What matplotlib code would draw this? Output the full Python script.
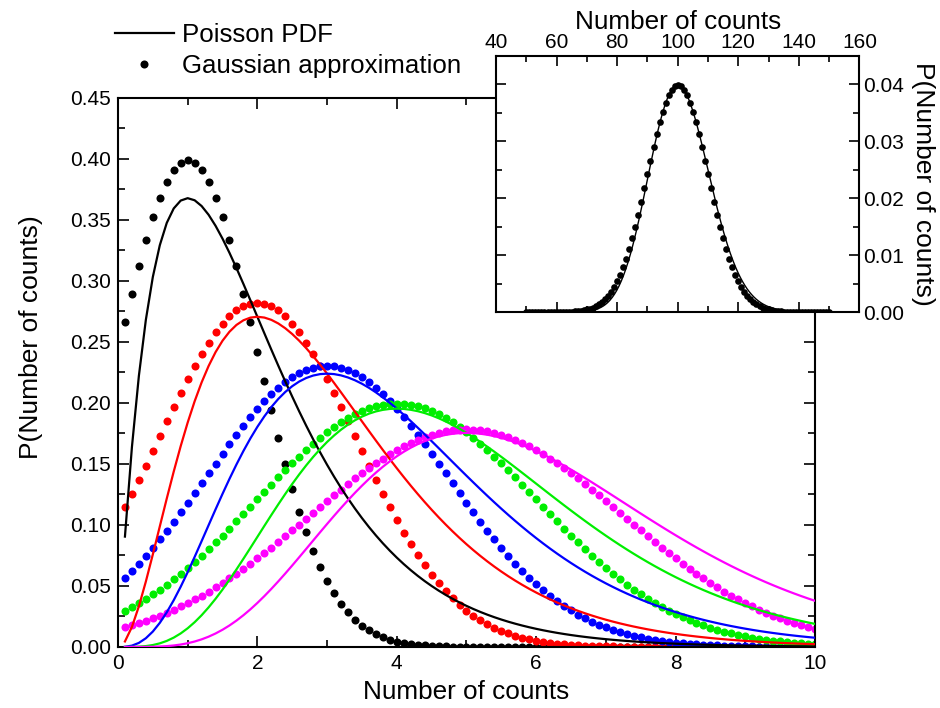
import math

import numpy as np
from matplotlib import pyplot as plt
from matplotlib.lines import Line2D
from matplotlib.ticker import MultipleLocator

plt.rcParams["font.family"] = ["Liberation Sans", "DejaVu Sans"]

# counts n for each curve, and the colour used for it
counts = [1, 2, 3, 4, 5]
colors = ["#000000", "#ff0000", "#0000ff", "#00ee00", "#ff00ff"]

# x grid (mean of the distribution) for the main panel
x_start, x_stop, x_step = 0.1, 10.0, 0.1

# inset: large count
inset_count = 100
inset_start, inset_stop = 50, 150

x_ticks = [0, 2, 4, 6, 8, 10]
y_ticks = [0.00, 0.05, 0.10, 0.15, 0.20, 0.25, 0.30, 0.35, 0.40, 0.45]
inset_x_ticks = [40, 60, 80, 100, 120, 140, 160]
inset_y_ticks = [0.00, 0.01, 0.02, 0.03, 0.04]

TICK_FS = 15


def poisson(n, lam):
    # P(n | lam) as a continuous function of lam
    return np.exp(n * np.log(lam) - lam - math.lgamma(n + 1))


def gauss(n, x):
    return np.exp(-(x - n) ** 2 / (2 * n)) / np.sqrt(2 * np.pi * n)


def style_axes(ax, major, minor):
    ax.tick_params(which="both", direction="in", top=True, right=True,
                   labelsize=TICK_FS, width=1.2, pad=5)
    ax.tick_params(which="major", length=major)
    ax.tick_params(which="minor", length=minor)
    for s in ax.spines.values():
        s.set_linewidth(1.5)


fig = plt.figure(figsize=(9.4, 7.08), dpi=100)
ax = fig.add_axes([0.1255, 0.0862, 0.7415, 0.7754])

x = np.arange(x_start, x_stop + x_step / 2, x_step)
for n, c in zip(counts, colors):
    ax.plot(x, gauss(n, x), "o", color=c, ms=5.8, mec="none", zorder=2)
for n, c in zip(counts, colors):
    ax.plot(x, poisson(n, x), "-", color=c, lw=1.6, zorder=3)

ax.set_xlim(0, 10)
ax.set_ylim(0, 0.45)
ax.set_xticks(x_ticks)
ax.set_yticks(y_ticks)
ax.xaxis.set_minor_locator(MultipleLocator(1))
ax.yaxis.set_minor_locator(MultipleLocator(0.025))
ax.set_yticklabels(["%.2f" % v for v in y_ticks])
ax.set_xlabel("Number of counts", fontsize=18.8, labelpad=5)
ax.set_ylabel("P(Number of counts)", fontsize=19)
ax.yaxis.set_label_coords(-0.107, 0.565)
style_axes(ax, 8, 5)

# inset with n = 100
ins = fig.add_axes([0.5277, 0.5593, 0.3866, 0.3616])
xi = np.arange(inset_start, inset_stop + 1, 1)
xl = np.linspace(inset_start, inset_stop + 1, 400)
ins.plot(xl, poisson(inset_count, xl), "-", color="k", lw=1.0, zorder=2)
ins.plot(xi, gauss(inset_count, xi), "o", color="k", ms=4.8, mec="none", zorder=3)
ins.set_xlim(40, 160)
ins.set_ylim(0, 0.045)
ins.set_xticks(inset_x_ticks)
ins.set_yticks(inset_y_ticks)
ins.xaxis.set_minor_locator(MultipleLocator(10))
ins.yaxis.set_minor_locator(MultipleLocator(0.005))
ins.set_yticklabels(["%.2f" % v for v in inset_y_ticks])
style_axes(ins, 7, 4)
ins.tick_params(labeltop=True, labelbottom=False, labelright=True, labelleft=False,
                pad=3)
ins.xaxis.set_label_position("top")
ins.yaxis.set_label_position("right")
ins.set_xlabel("Number of counts", fontsize=18.8, labelpad=3)
ins.set_ylabel("P(Number of counts)", fontsize=19, rotation=-90, labelpad=22)

handles = [
    Line2D([], [], color="k", lw=1.6),
    Line2D([], [], color="k", marker="o", ls="none", ms=5.8, mec="none"),
]
fig.legend(handles, ["Poisson PDF", "Gaussian approximation"],
           loc="upper left", bbox_to_anchor=(0.122, 0.968), frameon=False,
           fontsize=18.6, handlelength=2.3, handletextpad=0.3,
           labelspacing=0.3, borderpad=0, borderaxespad=0)

fig.savefig("out.png", dpi=100)
